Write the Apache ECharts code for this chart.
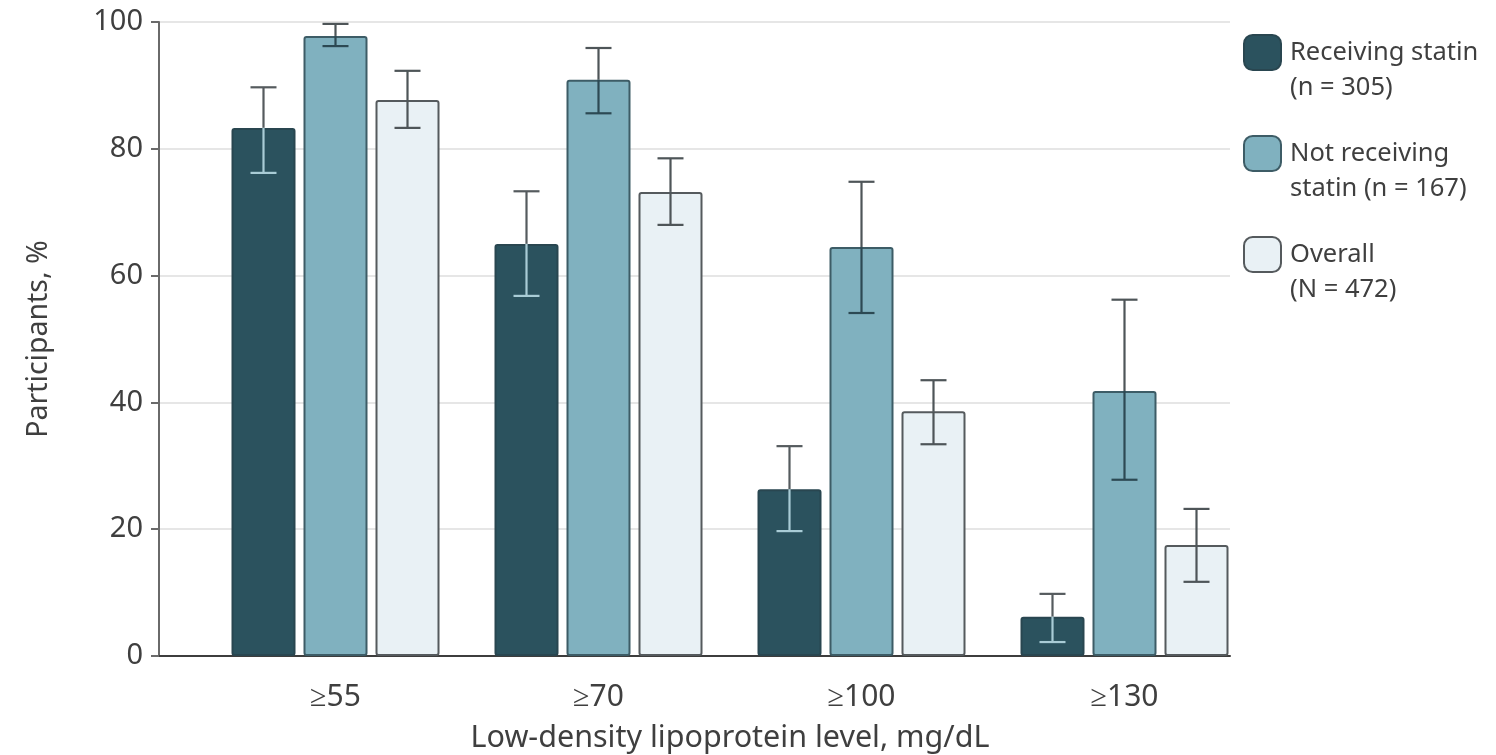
<!DOCTYPE html>
<html>
<head>
<meta charset="utf-8">
<script src="https://cdn.jsdelivr.net/npm/echarts@6/dist/echarts.min.js"></script>
<style>
html,body{margin:0;padding:0;background:#fff;}
#chart{width:1496px;height:755px;}
</style>
</head>
<body>
<div id="chart"></div>
<script>
const categories = ['≥55', '≥70', '≥100', '≥130'];
const seriesNames = ['Receiving statin\n(n = 305)', 'Not receiving\nstatin (n = 167)', 'Overall\n(N = 472)'];

const receiving     = [83.3, 65.0, 26.3, 6.2];
const receivingLow  = [76.2, 56.8, 19.7, 2.2];
const receivingHigh = [89.7, 73.3, 33.1, 9.8];

const notReceiving     = [97.8, 90.9, 64.5, 41.8];
const notReceivingLow  = [96.2, 85.6, 54.1, 27.8];
const notReceivingHigh = [99.7, 95.9, 74.8, 56.2];

const overall     = [87.7, 73.2, 38.6, 17.5];
const overallLow  = [83.3, 68.0, 33.4, 11.7];
const overallHigh = [92.3, 78.5, 43.5, 23.2];

const yTicks = [0, 20, 40, 60, 80, 100];

const FONT = 'Noto Sans';
const TEXT = '#3f3f3f';
const BAR_W = 64, BAR_GAP = 8;

const groups = [
  {name: seriesNames[0], v: receiving, lo: receivingLow, hi: receivingHigh, color: '#2b525e', border: '#294650', inner: '#a9ccd6', outer: '#555b5e'},
  {name: seriesNames[1], v: notReceiving, lo: notReceivingLow, hi: notReceivingHigh, color: '#80b1bf', border: '#3d5c66', inner: '#2c4953', outer: '#4e5558'},
  {name: seriesNames[2], v: overall, lo: overallLow, hi: overallHigh, color: '#e9f1f5', border: '#555a5d', inner: '#4e5558', outer: '#4e5558'}
];

const series = [];
groups.forEach((g, gi) => {
  series.push({
    name: g.name,
    type: 'bar',
    xAxisIndex: 1, yAxisIndex: 1,
    barWidth: BAR_W,
    barGap: (BAR_GAP / BAR_W * 100) + '%',
    itemStyle: {color: g.color, borderColor: g.border, borderWidth: 2, borderRadius: 2},
    emphasis: {disabled: true},
    data: g.v
  });
});
groups.forEach((g, gi) => {
  const offset = (gi - 1) * (BAR_W + BAR_GAP);
  series.push({
    name: 'err' + gi,
    type: 'custom',
    xAxisIndex: 1, yAxisIndex: 1,
    z: 10,
    silent: true,
    data: g.v.map((v, i) => [i, g.lo[i], g.hi[i], v]),
    renderItem: function (params, api) {
      const ci = api.value(0);
      const pV = api.coord([ci, api.value(3)]);
      const x = pV[0] + offset;
      const yLo = api.coord([ci, api.value(1)])[1];
      const yHi = api.coord([ci, api.value(2)])[1];
      const yV = pV[1];
      const cap = 13;
      const lw = 2.2;
      return {
        type: 'group',
        children: [
          {type: 'line', shape: {x1: x, y1: yHi, x2: x, y2: yV}, style: {stroke: g.outer, lineWidth: lw}},
          {type: 'line', shape: {x1: x, y1: yV, x2: x, y2: yLo}, style: {stroke: g.inner, lineWidth: lw}},
          {type: 'line', shape: {x1: x - cap, y1: yHi, x2: x + cap, y2: yHi}, style: {stroke: g.outer, lineWidth: lw}},
          {type: 'line', shape: {x1: x - cap, y1: yLo, x2: x + cap, y2: yLo}, style: {stroke: g.inner, lineWidth: lw}}
        ]
      };
    }
  });
});

const chart = echarts.init(document.getElementById('chart'), null, {renderer: 'canvas'});
chart.setOption({
  backgroundColor: '#ffffff',
  animation: false,
  textStyle: {fontFamily: FONT},
  grid: [
    {left: 159, right: 266, top: 22, bottom: 99, containLabel: false, outerBoundsMode: 'none'},
    {left: 204, right: 240, top: 22, bottom: 99, containLabel: false, outerBoundsMode: 'none'}
  ],
  legend: {
    data: seriesNames,
    orient: 'vertical',
    left: 1243,
    top: 0,
    padding: 0,
    itemWidth: 37,
    itemHeight: 35,
    itemGap: -4,
    icon: 'roundRect',
    selectedMode: false,
    formatter: function (name) { return '\n' + name; },
    textStyle: {fontFamily: FONT, fontSize: 25.5, color: TEXT, lineHeight: 35, padding: [0, 0, 0, 4]}
  },
  xAxis: [
    {
      gridIndex: 0, type: 'value', min: 0, max: 1,
      axisLine: {show: true, lineStyle: {color: '#3d3d3d', width: 2}},
      axisTick: {show: false}, axisLabel: {show: false}, splitLine: {show: false}
    },
    {
      gridIndex: 1, type: 'category', data: categories,
      axisLine: {show: false}, axisTick: {show: false},
      axisLabel: {fontFamily: FONT, fontSize: 30, color: TEXT, margin: 26},
      name: 'Low-density lipoprotein level, mg/dL',
      nameLocation: 'middle', nameGap: 67,
      nameTextStyle: {fontFamily: FONT, fontSize: 30.5, color: TEXT}
    }
  ],
  yAxis: [
    {
      gridIndex: 0, type: 'value', min: yTicks[0], max: yTicks[yTicks.length - 1], interval: 20,
      axisLine: {show: true, lineStyle: {color: '#6a6a6a', width: 2}},
      axisTick: {show: true, length: 8, lineStyle: {color: '#6a6a6a', width: 2}},
      axisLabel: {fontFamily: FONT, fontSize: 29, color: TEXT, margin: 16},
      splitLine: {show: true, lineStyle: {color: '#e6e6e6', width: 2}},
      name: 'Participants, %', nameLocation: 'middle', nameGap: 106,
      nameTextStyle: {fontFamily: FONT, fontSize: 28.5, color: TEXT}
    },
    {
      gridIndex: 1, type: 'value', min: 0, max: 100, show: false,
      splitLine: {show: false}
    }
  ],
  series: series
});
</script>
</body>
</html>
